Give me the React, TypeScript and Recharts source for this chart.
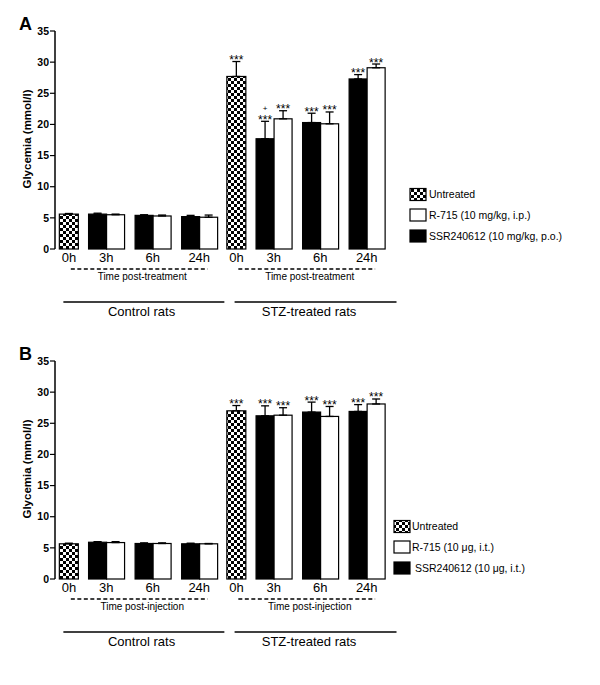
import React from 'react';
import { BarChart, Bar, XAxis, YAxis, ErrorBar } from 'recharts';

// ---------- shared categories / ticks ----------
const groupLabels = ['0h', '3h', '6h', '24h', '0h', '3h', '6h', '24h'];
const sectionLabels = ['Control rats', 'STZ-treated rats'];
const sectionSizes = [4, 4];
const yTicks = [0, 5, 10, 15, 20, 25, 30, 35];

// ---------- Panel A ----------
const untreatedA = [5.6, null, null, null, 27.7, null, null, null];
const untreatedErrA = [0.1, null, null, null, 2.4, null, null, null];
const ssrA = [null, 5.6, 5.4, 5.2, null, 17.7, 20.3, 27.3];
const ssrErrA = [null, 0.15, 0.1, 0.2, null, 2.8, 1.5, 0.7];
const r715A = [null, 5.5, 5.3, 5.1, null, 20.9, 20.1, 29.1];
const r715ErrA = [null, 0.1, 0.15, 0.35, null, 1.3, 1.9, 0.6];
const untreatedSigA = ['', '', '', '', '***', '', '', ''];
const ssrSigA = ['', '', '', '', '', '+***', '***', '***'];
const r715SigA = ['', '', '', '', '', '***', '***', '***'];
const legendA = ['Untreated', 'R-715 (10 mg/kg, i.p.)', 'SSR240612 (10 mg/kg, p.o.)'];
const timeTitleA = 'Time post-treatment';

// ---------- Panel B ----------
const untreatedB = [5.65, null, null, null, 27.0, null, null, null];
const untreatedErrB = [0.1, null, null, null, 0.85, null, null, null];
const ssrB = [null, 5.9, 5.7, 5.65, null, 26.2, 26.8, 26.9];
const ssrErrB = [null, 0.1, 0.1, 0.1, null, 1.6, 1.6, 1.1];
const r715B = [null, 5.85, 5.7, 5.65, null, 26.3, 26.1, 28.1];
const r715ErrB = [null, 0.15, 0.1, 0.05, null, 1.2, 1.6, 0.8];
const untreatedSigB = ['', '', '', '', '***', '', '', ''];
const ssrSigB = ['', '', '', '', '', '***', '***', '***'];
const r715SigB = ['', '', '', '', '', '***', '***', '***'];
const legendB = ['Untreated', 'R-715 (10 \u03bcg, i.t.)', 'SSR240612 (10 \u03bcg, i.t.)'];
const timeTitleB = 'Time post-injection';

// ---------- layout constants ----------
const FONT = '"Liberation Sans", Arial, Helvetica, sans-serif';
const CHART_W = 600;
const CHART_H = 330;
const MARGIN = { top: 31, right: 210, bottom: 61, left: 0 };
const Y_AXIS_W = 55;
const X_AXIS_H = 20;
const PLOT_LEFT = MARGIN.left + Y_AXIS_W;
const PLOT_RIGHT = CHART_W - MARGIN.right;
const UNIT_SINGLE = 3;
const UNIT_PAIR = 5;

type PanelData = {
  id: string;
  letter: string;
  untreated: (number | null)[];
  untreatedErr: (number | null)[];
  ssr: (number | null)[];
  ssrErr: (number | null)[];
  r715: (number | null)[];
  r715Err: (number | null)[];
  untreatedSig: string[];
  ssrSig: string[];
  r715Sig: string[];
  legend: string[];
  timeTitle: string;
  legendX: number;
  legendTextX: number[];
  legendRows: number[];
};

const panelA: PanelData = {
  id: 'A', letter: 'A',
  untreated: untreatedA, untreatedErr: untreatedErrA,
  ssr: ssrA, ssrErr: ssrErrA, r715: r715A, r715Err: r715ErrA,
  untreatedSig: untreatedSigA, ssrSig: ssrSigA, r715Sig: r715SigA,
  legend: legendA, timeTitle: timeTitleA,
  legendX: 410, legendTextX: [429, 429, 429], legendRows: [194.5, 215, 236],
};
const panelB: PanelData = {
  id: 'B', letter: 'B',
  untreated: untreatedB, untreatedErr: untreatedErrB,
  ssr: ssrB, ssrErr: ssrErrB, r715: r715B, r715Err: r715ErrB,
  untreatedSig: untreatedSigB, ssrSig: ssrSigB, r715Sig: r715SigB,
  legend: legendB, timeTitle: timeTitleB,
  legendX: 394, legendTextX: [412, 412, 415], legendRows: [196.5, 217, 238],
};

function buildRows(p: PanelData) {
  let cum = 0;
  const rows = groupLabels.map((label, i) => {
    const w = p.untreated[i] != null ? UNIT_SINGLE : UNIT_PAIR;
    const pos = cum + w / 2;
    cum += w;
    const e = (v: number | null) => (v == null ? null : [0, v]);
    return {
      pos,
      label,
      untreated: p.untreated[i],
      untreatedErr: e(p.untreatedErr[i]),
      untreatedErrV: p.untreatedErr[i],
      untreatedSig: p.untreatedSig[i],
      ssr: p.ssr[i],
      ssrErr: e(p.ssrErr[i]),
      ssrErrV: p.ssrErr[i],
      ssrSig: p.ssrSig[i],
      r715: p.r715[i],
      r715Err: e(p.r715Err[i]),
      r715ErrV: p.r715Err[i],
      r715Sig: p.r715Sig[i],
    };
  });
  return { rows, total: cum };
}

const makeShape = (fill: string, key: string) => (props: any) => {
  const { x, y, width, height, payload } = props;
  const v = payload ? payload[key] : null;
  if (v == null || !isFinite(y) || !isFinite(height) || height <= 0) return <g />;
  const err = payload[key + 'ErrV'] || 0;
  const ppu = height / v;
  const errTop = y - err * ppu;
  const sig: string = payload[key + 'Sig'] || '';
  const cx = x + width / 2;
  const hasPlus = sig.startsWith('+');
  const stars = sig.replace('+', '');
  return (
    <g>
      <rect x={x} y={y} width={width} height={height} fill={fill} stroke="#000" strokeWidth={1.2} />
      {stars && (
        <text x={cx} y={errTop + 2.5} textAnchor="middle" fontSize={12} fontFamily={FONT} fill="#000">
          {stars}
        </text>
      )}
      {hasPlus && (
        <text x={cx} y={errTop - 10.5} textAnchor="middle" fontSize={8} fontFamily={FONT} fill="#000">
          +
        </text>
      )}
    </g>
  );
};

function Panel({ p, top }: { p: PanelData; top: number }) {
  const { rows, total } = buildRows(p);
  const positions = rows.map((r) => r.pos);
  const px = (u: number) => PLOT_LEFT + (u / total) * (PLOT_RIGHT - PLOT_LEFT);
  const chk = `chk${p.id}`;
  const swatchFills = [`url(#${chk})`, '#fff', '#000'];

  let start = 0;
  const sections = sectionSizes.map((n, s) => {
    const uStart = rows[start].pos - (p.untreated[start] != null ? UNIT_SINGLE : UNIT_PAIR) / 2;
    const last = start + n - 1;
    const uEnd = rows[last].pos + (p.untreated[last] != null ? UNIT_SINGLE : UNIT_PAIR) / 2;
    start += n;
    return { s, uStart, uEnd };
  });
  const solidInset = [[0.9, 0.2], [1.3, 0.7]];
  const dashInset = [1.7, 1.6];

  return (
    <div style={{ position: 'absolute', left: 0, top, width: CHART_W, height: CHART_H }}>
      <BarChart width={CHART_W} height={CHART_H} data={rows} margin={MARGIN} barGap={0}>
        <defs>
          <pattern id={chk} width={6} height={6} patternUnits="userSpaceOnUse">
            <rect width={6} height={6} fill="#fff" />
            <rect width={3} height={3} fill="#000" />
            <rect x={3} y={3} width={3} height={3} fill="#000" />
          </pattern>
        </defs>
        <XAxis
          xAxisId="p"
          type="number"
          dataKey="pos"
          domain={[0, total]}
          ticks={positions}
          interval={0}
          tickFormatter={(_v: any, i: number) => groupLabels[i]}
          axisLine={false}
          tickLine={false}
          tickSize={0}
          tickMargin={4}
          height={X_AXIS_H}
          tick={{ fontSize: 13, fill: '#000', fontFamily: FONT }}
        />
        <XAxis xAxisId="u" type="number" dataKey="pos" domain={[0, total]} hide />
        <YAxis
          domain={[0, 35]}
          ticks={yTicks}
          interval={0}
          width={Y_AXIS_W}
          axisLine={{ stroke: '#000', strokeWidth: 1.5 }}
          tickLine={{ stroke: '#000', strokeWidth: 1.2 }}
          tickSize={5}
          tickMargin={1}
          tick={{ fontSize: 10.5, fontWeight: 'bold', fill: '#000', fontFamily: FONT }}
        />
        <Bar xAxisId="u" dataKey="untreated" barSize={19} isAnimationActive={false} shape={makeShape(`url(#${chk})`, 'untreated')}>
          <ErrorBar dataKey="untreatedErr" width={4} stroke="#000" strokeWidth={1.3} direction="y" />
        </Bar>
        <Bar xAxisId="p" dataKey="ssr" barSize={18} isAnimationActive={false} shape={makeShape('#000', 'ssr')}>
          <ErrorBar dataKey="ssrErr" width={4} stroke="#000" strokeWidth={1.3} direction="y" />
        </Bar>
        <Bar xAxisId="p" dataKey="r715" barSize={18} isAnimationActive={false} shape={makeShape('#fff', 'r715')}>
          <ErrorBar dataKey="r715Err" width={4} stroke="#000" strokeWidth={1.3} direction="y" />
        </Bar>
      </BarChart>
      <svg
        width={CHART_W}
        height={CHART_H}
        style={{ position: 'absolute', left: 0, top: 0, pointerEvents: 'none' }}
        fontFamily={FONT}
      >
        <text x={19} y={29.5} fontSize={18} fontWeight="bold" fill="#000">{p.letter}</text>
        <text
          x={27}
          y={139}
          transform="rotate(-90 27 139)"
          textAnchor="middle"
          dominantBaseline="central"
          fontSize={11.5}
          fontWeight="bold"
          fill="#000"
        >
          Glycemia (mmol/l)
        </text>
        {p.legend.map((name, i) => (
          <g key={name}>
            <rect x={p.legendX} y={p.legendRows[i] - 6} width={16} height={12} fill={swatchFills[i]} stroke="#000" strokeWidth={1.2} />
            <text x={p.legendTextX[i]} y={p.legendRows[i] + 3.8} fontSize={10.5} fill="#000">{name}</text>
          </g>
        ))}
        {sections.map(({ s, uStart, uEnd }) => {
          const d0 = px(uStart + dashInset[0]);
          const d1 = px(uEnd - dashInset[1]);
          const s0 = px(uStart + solidInset[s][0]);
          const s1 = px(uEnd + solidInset[s][1]);
          const mid = px((uStart + uEnd) / 2 + 0.3);
          return (
            <g key={s}>
              <line x1={d0} x2={d1} y1={269} y2={269} stroke="#000" strokeWidth={1.4} strokeDasharray="4 2.5" />
              <text x={(d0 + d1) / 2 + 3} y={279.5} textAnchor="middle" fontSize={10} fill="#000">{p.timeTitle}</text>
              <line x1={s0} x2={s1} y1={302} y2={302} stroke="#000" strokeWidth={1.6} />
              <text x={mid} y={316} textAnchor="middle" fontSize={13} fill="#000">{sectionLabels[s]}</text>
            </g>
          );
        })}
      </svg>
    </div>
  );
}

export default function App() {
  return (
    <div style={{ position: 'absolute', left: 0, top: 0, width: 600, height: 685, background: '#fff' }}>
      <Panel p={panelA} top={0} />
      <Panel p={panelB} top={330} />
    </div>
  );
}
